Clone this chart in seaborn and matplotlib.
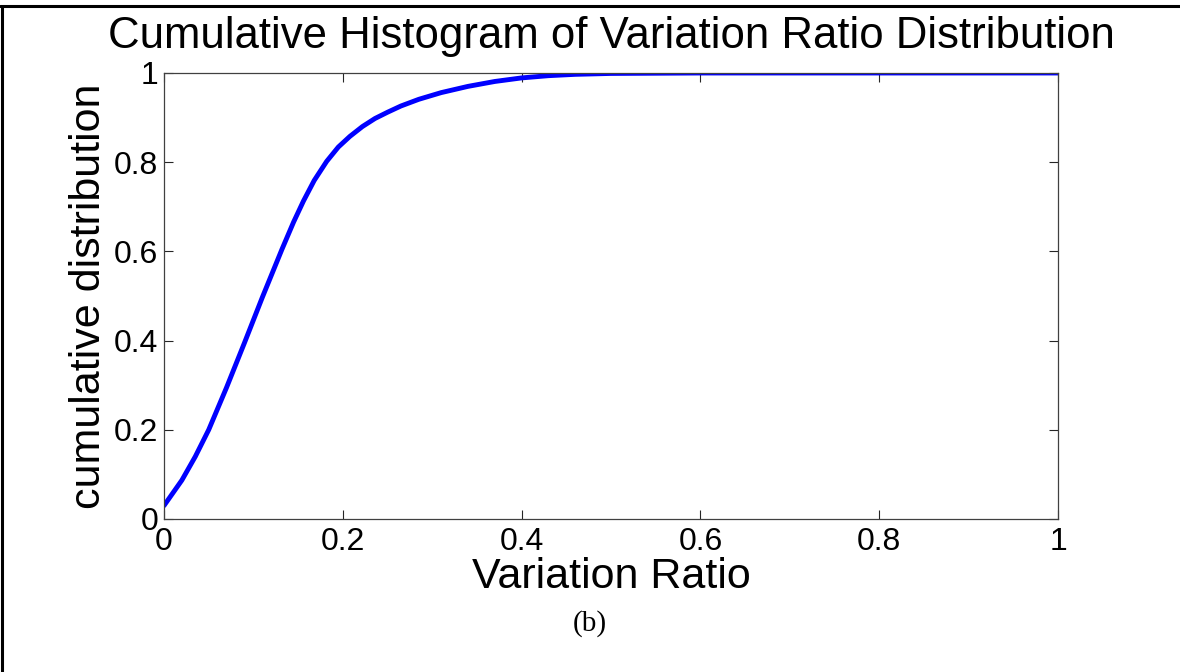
import matplotlib
matplotlib.use("Agg")
import matplotlib.pyplot as plt
from matplotlib.lines import Line2D
import seaborn as sns
import pandas as pd

# Cumulative distribution of the variation ratio
variation_ratio = [0.0, 0.02, 0.035, 0.05, 0.07, 0.09, 0.11, 0.132, 0.145,
                   0.156, 0.168, 0.182, 0.195, 0.208, 0.222, 0.236, 0.25, 0.265,
                   0.285, 0.31, 0.34, 0.37, 0.40, 0.43, 0.46, 0.50, 0.60, 0.80, 1.00]
cumulative = [0.03, 0.087, 0.14, 0.20, 0.295, 0.395, 0.497, 0.605, 0.666,
              0.713, 0.759, 0.802, 0.834, 0.858, 0.880, 0.898, 0.912, 0.926,
              0.941, 0.956, 0.970, 0.981, 0.989, 0.994, 0.997, 0.999, 1.0, 1.0, 1.0]

tick_values = [0, 0.2, 0.4, 0.6, 0.8, 1]
tick_labels = ["0", "0.2", "0.4", "0.6", "0.8", "1"]

sns.set_theme(style="white")
plt.rcParams["font.family"] = ["Liberation Sans", "DejaVu Sans"]

df = pd.DataFrame({"ratio": variation_ratio, "cdf": cumulative})

fig = plt.figure(figsize=(11.8, 6.72), dpi=100)
ax = fig.add_axes([164 / 1180, 1 - 519 / 672, (1058 - 164) / 1180, (519 - 73) / 672])

sns.lineplot(data=df, x="ratio", y="cdf", ax=ax, color="#0000ff", linewidth=3.5)

ax.set_xlim(0, 1)
ax.set_ylim(0, 1)
ax.set_xticks(tick_values)
ax.set_xticklabels(tick_labels)
ax.set_yticks(tick_values)
ax.set_yticklabels(tick_labels)
ax.tick_params(direction="in", length=6.5, width=0.8, color="#262626",
               labelsize=23, top=True, right=True, bottom=True, left=True,
               labelcolor="black")
ax.tick_params(axis="x", pad=6)
ax.tick_params(axis="y", pad=4)
for s in ax.spines.values():
    s.set_visible(True)
    s.set_color("#404040")
    s.set_linewidth(0.9)

ax.set_xlabel("Variation Ratio", fontsize=31, color="black", labelpad=0)
ax.set_ylabel("cumulative distribution", fontsize=31, color="black", labelpad=4)
ax.set_title("Cumulative Histogram of Variation Ratio Distribution",
             fontsize=31.5, color="black", pad=18)

fig.text(590 / 1180, 1 - 624 / 672, "(b)", ha="center", va="center",
         fontsize=21, family=["Liberation Serif", "DejaVu Serif"], color="black")

# Page frame lines along the top and left edges
fig.add_artist(Line2D([0, 1], [1 - 6 / 672, 1 - 6 / 672], transform=fig.transFigure,
                      color="black", linewidth=2.2))
fig.add_artist(Line2D([1.5 / 1180, 1.5 / 1180], [0, 1 - 6 / 672], transform=fig.transFigure,
                      color="black", linewidth=2.2))

fig.savefig("out.png", dpi=100, facecolor="white")
